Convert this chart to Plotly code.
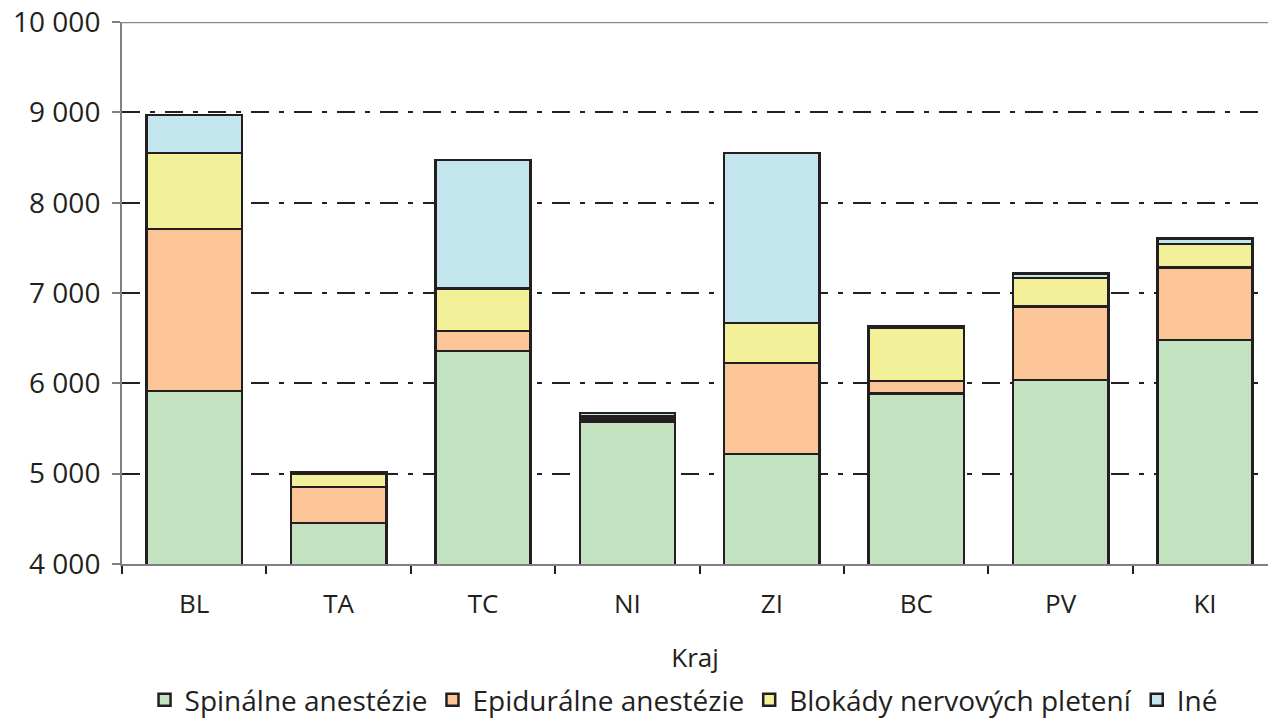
import plotly.graph_objects as go

categories = ["BL", "TA", "TC", "NI", "ZI", "BC", "PV", "KI"]
spinalne = [5915, 4454, 6358, 5580, 5218, 5890, 6037, 6480]
epiduralne = [1795, 400, 220, 30, 1007, 136, 812, 805]
blokady = [840, 150, 475, 30, 443, 594, 319, 258]
ine = [420, 10, 1420, 30, 1882, 12, 50, 63]

series_names = ["Spinálne anestézie", "Epidurálne anestézie", "Blokády nervových pletení", "Iné"]
series_values = [spinalne, epiduralne, blokady, ine]
colors = ["#C3E2C0", "#FCC597", "#F2F098", "#C3E5EE"]
y_ticks = [4000, 5000, 6000, 7000, 8000, 9000, 10000]
y_tick_labels = ["4 000", "5 000", "6 000", "7 000", "8 000", "9 000", "10 000"]

ink = "#231f20"
font_family = "Open Sans, DejaVu Sans, sans-serif"

fig = go.Figure()
for name, vals, col in zip(series_names, series_values, colors):
    fig.add_trace(go.Bar(
        x=categories, y=vals, name=name,
        marker=dict(color=col, line=dict(color=ink, width=2.5)),
    ))

fig.update_layout(
    barmode="stack",
    bargap=0.34,
    width=1268, height=718,
    margin=dict(l=122, r=0, t=22, b=154, autoexpand=False),
    paper_bgcolor="white", plot_bgcolor="white",
    font=dict(family=font_family, color=ink, size=26),
    showlegend=True,
    legend=dict(
        orientation="h", x=0.49, xanchor="center", y=-0.251, yanchor="middle",
        font=dict(size=28, color=ink), traceorder="normal",
        itemwidth=30,
    ),
    xaxis=dict(
        type="category", range=[-0.5, 7.436],
        showline=True, linecolor="#808080", linewidth=2,
        ticks="outside", tickson="boundaries", ticklen=8, tickcolor=ink, tickwidth=2,
        showgrid=False, automargin=False,
        tickfont=dict(size=26, color=ink), ticklabelstandoff=16,
        title=dict(text="Kraj", font=dict(size=26, color=ink), standoff=29),
    ),
    yaxis=dict(
        range=[4000, 10001], automargin=False,
        tickvals=y_ticks, ticktext=y_tick_labels,
        showline=True, linecolor="#808080", linewidth=2,
        ticks="outside", ticklen=8, tickcolor="#808080", tickwidth=2,
        showgrid=True, gridcolor=ink, gridwidth=2, griddash="18px,10px,5px,10px",
        tickfont=dict(size=28, color=ink), ticklabelstandoff=6,
        ticklabeloverflow="allow",
        zeroline=False,
    ),
    shapes=[dict(type="line", xref="paper", yref="y", x0=0, x1=1, y0=10000, y1=10000,
                 line=dict(color="#8a8a8a", width=2.5), layer="above")],
)

fig.write_html(
    "out.html",
    config={"displayModeBar": False},
    post_script="document.body.style.margin='0px'; document.body.style.overflow='hidden';",
)
